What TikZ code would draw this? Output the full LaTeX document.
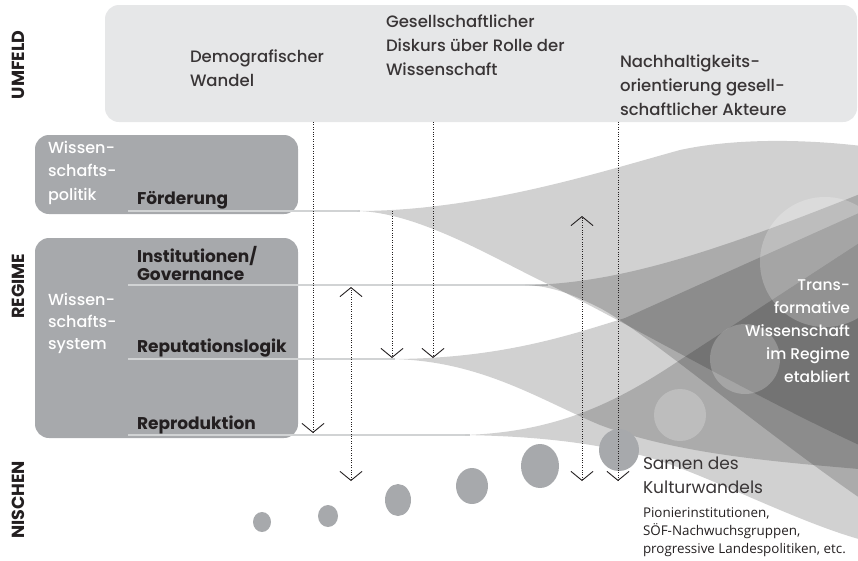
\documentclass[tikz,border=0pt]{standalone}
\usepackage{fontspec}
\setmainfont{Poppins}
\newfontfamily\mediumfont{Poppins Medium}
\newfontfamily\notefont{Open Sans}
\usetikzlibrary{arrows.meta}
\definecolor{umfeldgray}{HTML}{E6E7E8}
\definecolor{regimegray}{HTML}{A7A9AC}
\definecolor{linegray}{HTML}{D1D3D4}
\definecolor{ink}{HTML}{231F20}
\begin{document}
\begin{tikzpicture}[x=1pt,y=-1pt,
  every node/.style={inner sep=0pt, outer sep=0pt},
  levellabel/.style={rotate=90, font=\bfseries\fontsize{17.5}{17.5}\selectfont, text=ink},
  envlabel/.style={anchor=north west, align=left, font=\mediumfont\fontsize{16.5}{24}\selectfont, text=ink!90},
  systemlabel/.style={anchor=north west, align=left, font=\mediumfont\fontsize{16}{23.5}\selectfont, text=white},
  factorlabel/.style={anchor=north west, align=left, font=\bfseries\fontsize{17}{18.5}\selectfont, text=ink},
  panel/.style={rounded corners=14pt},
  layerline/.style={draw=linegray, line width=2pt},
  stream/.style={fill=black, fill opacity=0.18},
  glow/.style={fill=white, fill opacity=0.22},
  seed/.style={fill=regimegray},
  influence/.style={draw=ink, line width=0.8pt, dash pattern=on 0.8pt off 1.6pt,
    -{Straight Barb[length=9pt,width=22pt,line width=0.9pt]}},
  mutual/.style={draw=ink, line width=0.8pt, dash pattern=on 0.8pt off 1.6pt,
    {Straight Barb[length=9pt,width=22pt,line width=0.9pt]}-{Straight Barb[length=9pt,width=22pt,line width=0.9pt]}}
]
\useasboundingbox (0,0) rectangle (858,560);

% --- level labels ---
\node[levellabel] (umfeld) at (18,65) {UMFELD};
\node[levellabel] (regime) at (18,286) {REGIME};
\node[levellabel] (nischen) at (18,500) {NISCHEN};

% --- environment panel ---
\fill[umfeldgray, panel] (105,5) rectangle (857,122);
\node[envlabel] (demo) at (190,50) {Demografischer\\Wandel};
\node[envlabel] (diskurs) at (386,15) {Gesellschaftlicher\\Diskurs über Rolle der\\Wissenschaft};
\node[envlabel] (nachhalt) at (620,55) {Nachhaltigkeits-\\orientierung gesell-\\schaftlicher Akteure};

% --- regime panels ---
\fill[regimegray, panel] (35,135) rectangle (298,214);
\fill[regimegray, panel] (35,238) rectangle (298,438);
\node[systemlabel] (politik) at (48,141) {Wissen-\\schafts-\\politik};
\node[systemlabel, font=\mediumfont\fontsize{16}{22}\selectfont] (system) at (48,293) {Wissen-\\schafts-\\system};

% --- regime layers ---
\coordinate (foerdL) at (128,211);   \coordinate (foerdR) at (360,211);
\coordinate (instL) at (128,285);    \coordinate (instR) at (548,285);
\coordinate (repuL) at (128,359);    \coordinate (repuR) at (395,359);
\coordinate (reprL) at (128,435);    \coordinate (reprR) at (470,435);
\draw[layerline] (foerdL) -- (foerdR);
\draw[layerline] (instL) -- (instR);
\draw[layerline] (repuL) -- (repuR);
\draw[layerline] (reprL) -- (reprR);

\node[factorlabel] (foerd) at (137,191) {Förderung};
\node[factorlabel] (inst) at (137,246) {Institutionen/\\Governance};
\node[factorlabel] (repu) at (137,339) {Reputationslogik};
\node[factorlabel] (repr) at (137,416) {Reproduktion};

% --- streams growing out of the regime layers ---
\begin{scope}
\clip (0,0) rectangle (858,560);
% Foerderung
\fill[stream] (357,211) .. controls (480,211) and (600,172) .. (680,150)
  .. controls (730,139) and (800,138) .. (870,147) -- (870,450)
  .. controls (760,400) and (640,330) .. (550,285)
  .. controls (500,262) and (420,212) .. (357,211) -- cycle;
% Institutionen / Governance
\fill[stream] (525,285) .. controls (620,284) and (720,250) .. (870,190)
  -- (870,505) .. controls (760,430) and (650,335) .. (600,308)
  .. controls (570,293) and (550,286) .. (525,285) -- cycle;
% Reputationslogik
\fill[stream] (390,359) .. controls (500,359) and (570,335) .. (625,318)
  -- (870,208) -- (870,470)
  .. controls (780,462) and (680,455) .. (600,425)
  .. controls (540,400) and (480,360) .. (390,359) -- cycle;
% Reproduktion
\fill[stream] (465,435) .. controls (560,432) and (620,400) .. (680,360)
  -- (870,236) -- (870,542)
  .. controls (800,525) and (700,470) .. (640,455)
  .. controls (580,440) and (520,436) .. (465,435) -- cycle;
% light circles
\fill[glow] (825,262) circle[radius=65];
\fill[glow] (745,359) circle[radius=35];
\fill[glow] (680,415) circle[radius=26];
\end{scope}

% --- seeds in the niches ---
\fill[seed] (262,522) ellipse[x radius=9, y radius=10];
\fill[seed] (328,516) ellipse[x radius=10, y radius=11];
\fill[seed] (398,500) ellipse[x radius=13, y radius=16];
\fill[seed] (472,486) ellipse[x radius=16, y radius=18];
\fill[seed] (540,466) ellipse[x radius=19, y radius=22];
\fill[seed] (619,450) ellipse[x radius=20, y radius=21];

\node[anchor=north east, align=right, font=\mediumfont\fontsize{15.5}{23}\selectfont, text=white] (transform) at (850,280)
  {Trans-\\formative\\Wissenschaft\\im Regime\\etabliert};

\node[anchor=north west, align=left, font=\fontsize{17}{24}\selectfont, text=ink!90] (samen) at (643,457)
  {Samen des\\Kulturwandels};
\node[anchor=north west, align=left, font=\notefont\fontsize{13.4}{18}\selectfont, text=ink] (pionier) at (643,508)
  {Pionierinstitutionen,\\SÖF-Nachwuchsgruppen,\\progressive Landespolitiken, etc.};

% --- influences ---
\coordinate (a1s) at (313,122); \coordinate (a1e) at (313,433);
\coordinate (a2s) at (351,481); \coordinate (a2e) at (351,287);
\coordinate (a3s) at (392,211); \coordinate (a3e) at (392,358);
\coordinate (a4s) at (433,122); \coordinate (a4e) at (433,358);
\coordinate (a5s) at (582,481); \coordinate (a5e) at (582,216);
\coordinate (a6s) at (618,122); \coordinate (a6e) at (618,481);
\draw[influence] (a1s) -- (a1e);
\draw[mutual] (a2s) -- (a2e);
\draw[influence] (a3s) -- (a3e);
\draw[influence] (a4s) -- (a4e);
\draw[mutual] (a5s) -- (a5e);
\draw[influence] (a6s) -- (a6e);
\end{tikzpicture}
\end{document}
